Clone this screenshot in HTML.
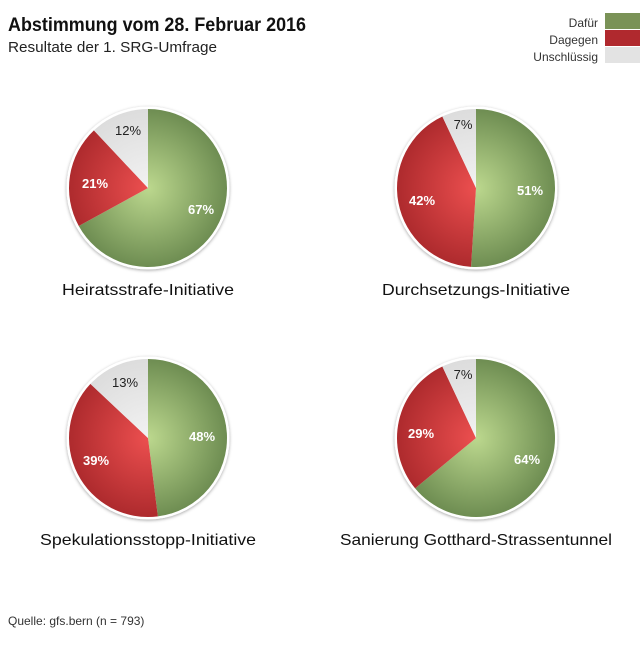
<!DOCTYPE html>
<html><head><meta charset="utf-8"><style>
body{margin:0;width:640px;height:640px;background:#fff;font-family:"Liberation Sans",sans-serif;overflow:hidden}
</style></head><body>
<svg id="s" width="640" height="640" xmlns="http://www.w3.org/2000/svg" font-family="Liberation Sans, sans-serif">
<defs>
<radialGradient id="g" cx="0" cy="0" r="80" gradientUnits="userSpaceOnUse"><stop offset="0" stop-color="#bcd88e"/><stop offset="1" stop-color="#6d8c51"/></radialGradient>
<radialGradient id="r" cx="0" cy="0" r="80" gradientUnits="userSpaceOnUse"><stop offset="0" stop-color="#ec4f4f"/><stop offset="1" stop-color="#ad2a2d"/></radialGradient>
<radialGradient id="w" cx="0" cy="0" r="80" gradientUnits="userSpaceOnUse"><stop offset="0" stop-color="#f2f2f2"/><stop offset="1" stop-color="#dcdcdc"/></radialGradient>
<filter id="sh" x="-20%" y="-20%" width="140%" height="140%"><feDropShadow dx="0" dy="1" stdDeviation="1.5" flood-opacity="0.35"/></filter>
</defs>
<text x="8" y="31" font-size="19" font-weight="bold" fill="#111" textLength="298" lengthAdjust="spacingAndGlyphs">Abstimmung vom 28. Februar 2016</text>
<text x="8" y="52" font-size="15" fill="#222" textLength="209" lengthAdjust="spacingAndGlyphs">Resultate der 1. SRG-Umfrage</text>
<text x="598" y="27" font-size="12" fill="#333" text-anchor="end">Dafür</text>
<text x="598" y="44" font-size="12" fill="#333" text-anchor="end">Dagegen</text>
<text x="598" y="61" font-size="12" fill="#333" text-anchor="end">Unschlüssig</text>
<rect x="605" y="13" width="35" height="16" fill="#7a9257"/>
<rect x="605" y="30" width="35" height="16" fill="#b0292e"/>
<rect x="605" y="47" width="35" height="16" fill="#e3e3e3"/>
<text x="8" y="625" font-size="12" fill="#333">Quelle: gfs.bern (n = 793)</text>
</svg>
<script>
var s=document.getElementById('s'),NS="http://www.w3.org/2000/svg";
var pies=[[148,188,[67,21,12],"Heiratsstrafe-Initiative",[[201,209],[95,183],[128,130]],172],
[476,188,[51,42,7],"Durchsetzungs-Initiative",[[530,190],[422,200],[463,124]],188],
[148,438,[48,39,13],"Spekulationsstopp-Initiative",[[202,436],[96,460],[125,382]],216],
[476,438,[64,29,7],"Sanierung Gotthard-Strassentunnel",[[527,459],[421,433],[463,374]],272]];
var fills=["url(#g)","url(#r)","url(#w)"],R=79;
function el(n,a,p){var e=document.createElementNS(NS,n);for(var k in a)e.setAttribute(k,a[k]);(p||s).appendChild(e);return e;}
pies.forEach(function(p){
 var cx=p[0],cy=p[1];
 var g=el("g",{transform:"translate("+cx+","+cy+")"});
 el("circle",{r:R+2.5,fill:"#fff",filter:"url(#sh)"},g);
 var a=0,tot=p[2][0]+p[2][1]+p[2][2];
 p[2].forEach(function(v,i){
  var b=a+v/tot*2*Math.PI;
  var x1=R*Math.sin(a),y1=-R*Math.cos(a),x2=R*Math.sin(b),y2=-R*Math.cos(b);
  el("path",{d:"M0,0L"+x1+","+y1+"A"+R+","+R+" 0 "+((b-a)>Math.PI?1:0)+" 1 "+x2+","+y2+"Z",fill:fills[i]},g);
  a=b;
 });
 p[2].forEach(function(v,i){
  var t=el("text",{x:p[4][i][0],y:p[4][i][1]+5,"font-size":"13","font-weight":i<2?"bold":"normal",fill:i<2?"#fff":"#222","text-anchor":"middle"});
  t.textContent=v+"%";
 });
 var t=el("text",{x:cx,y:cy+107,"font-size":"16",fill:"#111","text-anchor":"middle",textLength:p[5],lengthAdjust:"spacingAndGlyphs"});
 t.textContent=p[3];
});
</script>
</body></html>
